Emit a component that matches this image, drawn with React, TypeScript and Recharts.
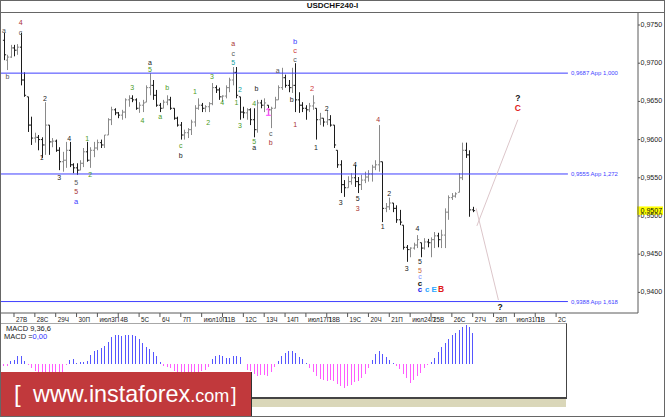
import React from 'react';
import { ComposedChart, Bar, XAxis, YAxis, Scatter, ReferenceLine } from 'recharts';

// ---------- data (USDCHF, H4 bars; bar index 0 = 27 Tue 00:00, 6 bars per day) ----------
const FIRST_BAR = -3;
const BARS_PER_DAY = 6;

const barHigh = [
  0.9740, 0.9711, 0.9724, 0.9724, 0.9725, 0.9740, 0.9688, 0.9656, 0.9630, 0.9609,
  0.9606, 0.9603, 0.9649, 0.9619, 0.9602, 0.9600, 0.9590, 0.9584, 0.9597, 0.9597,
  0.9569, 0.9569, 0.9573, 0.9589, 0.9597, 0.9590, 0.9597, 0.9600, 0.9600, 0.9606,
  0.9628, 0.9643, 0.9641, 0.9636, 0.9639, 0.9654, 0.9658, 0.9658, 0.9654, 0.9649,
  0.9652, 0.9671, 0.9687, 0.9678, 0.9665, 0.9648, 0.9652, 0.9658, 0.9656, 0.9641,
  0.9630, 0.9623, 0.9613, 0.9615, 0.9626, 0.9645, 0.9654, 0.9648, 0.9645, 0.9649,
  0.9674, 0.9671, 0.9668, 0.9658, 0.9671, 0.9681, 0.9695, 0.9695, 0.9656, 0.9643,
  0.9641, 0.9641, 0.9641, 0.9652, 0.9652, 0.9654, 0.9645, 0.9643, 0.9656, 0.9671,
  0.9694, 0.9685, 0.9678, 0.9694, 0.9700, 0.9662, 0.9649, 0.9645, 0.9648, 0.9658,
  0.9641, 0.9635, 0.9628, 0.9639, 0.9632, 0.9619, 0.9586, 0.9573, 0.9547, 0.9552,
  0.9556, 0.9567, 0.9551, 0.9554, 0.9558, 0.9560, 0.9567, 0.9573, 0.9619, 0.9571,
  0.9517, 0.9524, 0.9517, 0.9514, 0.9508, 0.9488, 0.9462, 0.9459, 0.9465, 0.9475,
  0.9465, 0.9471, 0.9470, 0.9472, 0.9479, 0.9478, 0.9482, 0.9510, 0.9527, 0.9530,
  0.9531, 0.9556, 0.9596, 0.9596, 0.9586, 0.9512,
];
const barLow = [
  0.9704, 0.9691, 0.9707, 0.9709, 0.9711, 0.9671, 0.9656, 0.9610, 0.9593, 0.9596,
  0.9586, 0.9576, 0.9580, 0.9580, 0.9590, 0.9584, 0.9560, 0.9558, 0.9563, 0.9564,
  0.9556, 0.9554, 0.9560, 0.9564, 0.9571, 0.9563, 0.9577, 0.9586, 0.9589, 0.9589,
  0.9606, 0.9619, 0.9632, 0.9628, 0.9626, 0.9628, 0.9643, 0.9649, 0.9639, 0.9635,
  0.9636, 0.9649, 0.9658, 0.9652, 0.9643, 0.9636, 0.9641, 0.9645, 0.9639, 0.9626,
  0.9617, 0.9600, 0.9600, 0.9602, 0.9606, 0.9617, 0.9639, 0.9636, 0.9636, 0.9636,
  0.9645, 0.9661, 0.9652, 0.9649, 0.9654, 0.9662, 0.9671, 0.9654, 0.9626, 0.9628,
  0.9626, 0.9619, 0.9603, 0.9609, 0.9641, 0.9636, 0.9632, 0.9615, 0.9641, 0.9652,
  0.9665, 0.9668, 0.9662, 0.9661, 0.9636, 0.9635, 0.9636, 0.9626, 0.9636, 0.9639,
  0.9600, 0.9619, 0.9617, 0.9619, 0.9617, 0.9589, 0.9563, 0.9530, 0.9525, 0.9537,
  0.9541, 0.9538, 0.9530, 0.9534, 0.9543, 0.9545, 0.9545, 0.9560, 0.9558, 0.9492,
  0.9505, 0.9508, 0.9505, 0.9491, 0.9488, 0.9456, 0.9440, 0.9446, 0.9456, 0.9458,
  0.9446, 0.9456, 0.9459, 0.9446, 0.9458, 0.9459, 0.9458, 0.9458, 0.9495, 0.9521,
  0.9524, 0.9531, 0.9547, 0.9576, 0.9499, 0.9505,
];
const barOpen = [
  0.9730, 0.9704, 0.9708, 0.9720, 0.9717, 0.9721, 0.9678, 0.9656, 0.9619, 0.9602,
  0.9603, 0.9600, 0.9593, 0.9619, 0.9597, 0.9598, 0.9586, 0.9571, 0.9573, 0.9586,
  0.9567, 0.9563, 0.9560, 0.9569, 0.9584, 0.9573, 0.9586, 0.9589, 0.9596, 0.9593,
  0.9606, 0.9626, 0.9639, 0.9635, 0.9632, 0.9636, 0.9652, 0.9654, 0.9652, 0.9641,
  0.9645, 0.9649, 0.9668, 0.9671, 0.9658, 0.9645, 0.9641, 0.9649, 0.9652, 0.9641,
  0.9628, 0.9619, 0.9606, 0.9609, 0.9613, 0.9623, 0.9641, 0.9645, 0.9641, 0.9643,
  0.9647, 0.9668, 0.9665, 0.9656, 0.9657, 0.9668, 0.9678, 0.9688, 0.9656, 0.9636,
  0.9635, 0.9639, 0.9626, 0.9613, 0.9648, 0.9645, 0.9645, 0.9639, 0.9641, 0.9652,
  0.9668, 0.9681, 0.9671, 0.9668, 0.9671, 0.9652, 0.9645, 0.9641, 0.9639, 0.9644,
  0.9641, 0.9626, 0.9628, 0.9623, 0.9626, 0.9619, 0.9586, 0.9567, 0.9541, 0.9537,
  0.9545, 0.9550, 0.9545, 0.9541, 0.9547, 0.9551, 0.9555, 0.9564, 0.9567, 0.9571,
  0.9510, 0.9512, 0.9517, 0.9510, 0.9495, 0.9488, 0.9459, 0.9456, 0.9458, 0.9462,
  0.9465, 0.9458, 0.9466, 0.9465, 0.9469, 0.9474, 0.9469, 0.9475, 0.9505, 0.9524,
  0.9526, 0.9531, 0.9550, 0.9586, 0.9580, 0.9508,
];
const barClose = [
  0.9711, 0.9708, 0.9720, 0.9717, 0.9721, 0.9678, 0.9658, 0.9619, 0.9602, 0.9603,
  0.9600, 0.9593, 0.9619, 0.9597, 0.9598, 0.9586, 0.9571, 0.9573, 0.9586, 0.9567,
  0.9563, 0.9560, 0.9569, 0.9584, 0.9573, 0.9586, 0.9589, 0.9596, 0.9593, 0.9606,
  0.9626, 0.9639, 0.9635, 0.9632, 0.9636, 0.9652, 0.9654, 0.9652, 0.9641, 0.9645,
  0.9648, 0.9668, 0.9671, 0.9658, 0.9645, 0.9641, 0.9649, 0.9652, 0.9641, 0.9628,
  0.9619, 0.9606, 0.9609, 0.9613, 0.9623, 0.9641, 0.9645, 0.9641, 0.9643, 0.9647,
  0.9668, 0.9665, 0.9656, 0.9657, 0.9668, 0.9678, 0.9688, 0.9658, 0.9636, 0.9635,
  0.9639, 0.9626, 0.9613, 0.9648, 0.9645, 0.9648, 0.9639, 0.9641, 0.9652, 0.9668,
  0.9681, 0.9671, 0.9668, 0.9671, 0.9652, 0.9645, 0.9641, 0.9639, 0.9644, 0.9648,
  0.9626, 0.9628, 0.9623, 0.9626, 0.9619, 0.9593, 0.9567, 0.9541, 0.9537, 0.9545,
  0.9550, 0.9545, 0.9541, 0.9547, 0.9551, 0.9555, 0.9564, 0.9567, 0.9571, 0.9510,
  0.9512, 0.9517, 0.9510, 0.9495, 0.9492, 0.9459, 0.9456, 0.9458, 0.9462, 0.9469,
  0.9458, 0.9466, 0.9465, 0.9469, 0.9474, 0.9469, 0.9475, 0.9505, 0.9524, 0.9526,
  0.9529, 0.9550, 0.9586, 0.9580, 0.9508, 0.9507,
];
const macdHist = [
  -0.0002, -0.0002, 0.0003, 0.0004, 0.0008, 0.0008, 0.0003, -0.0001, -0.0004, -0.0007,
  -0.0009, -0.0010, -0.0010, -0.0011, -0.0011, -0.0010, -0.0010, -0.0008, -0.0001, 0.0004,
  0.0005, 0.0001, 0.0002, 0.0002, 0.0003, 0.0009, 0.0013, 0.0014, 0.0016, 0.0018,
  0.0022, 0.0027, 0.0029, 0.0029, 0.0028, 0.0029, 0.0029, 0.0029, 0.0028, 0.0025,
  0.0021, 0.0017, 0.0015, 0.0012, 0.0008, 0.0002, -0.0002, -0.0003, -0.0004, -0.0007,
  -0.0009, -0.0010, -0.0010, -0.0011, -0.0010, -0.0009, -0.0008, -0.0007, -0.0006, -0.0003,
  0.0005, 0.0008, 0.0009, 0.0008, 0.0006, 0.0006, 0.0008, 0.0008, 0.0007, 0.0000,
  -0.0006, -0.0007, -0.0010, -0.0012, -0.0011, -0.0011, -0.0012, -0.0008, -0.0003, 0.0003,
  0.0008, 0.0011, 0.0013, 0.0013, 0.0011, 0.0007, 0.0005, 0.0001, -0.0004, -0.0008,
  -0.0012, -0.0015, -0.0016, -0.0017, -0.0016, -0.0017, -0.0020, -0.0022, -0.0024, -0.0022,
  -0.0021, -0.0018, -0.0017, -0.0014, -0.0010, -0.0004, 0.0004, 0.0010, 0.0013, 0.0010,
  0.0007, 0.0004, 0.0001, -0.0002, -0.0005, -0.0010, -0.0014, -0.0019, -0.0016, -0.0012,
  -0.0009, -0.0004, -0.0001, 0.0002, 0.0006, 0.0012, 0.0017, 0.0021, 0.0025, 0.0029,
  0.0031, 0.0034, 0.0037, 0.0039, 0.0037, 0.0031,
];

const dayLabels = [
  '27В', '28С', '29Ч', '30П', 'июл3П', '4В', '5С', '6Ч', '7П', 'июл10П', '11В', '12С', '13Ч', '14П',
  'июл17П', '18В', '19С', '20Ч', '21П', 'июл24П', '25В', '26С', '27Ч', '28П', 'июл31П', '1В', '2С',
];
const priceTicks = [0.94, 0.945, 0.95, 0.955, 0.96, 0.965, 0.97, 0.975];
const fibLevels = [0.9687, 0.9555, 0.9388];
const fibRatios = ['1,000', '1,272', '1,618'];
const lastPrice = 0.9507;
const projectionUp = [{ t: 133.2, p: 0.9487 }, { t: 145.0, p: 0.9626 }];
const projectionDown = [{ t: 133.0, p: 0.9510 }, { t: 139.4, p: 0.9390 }];
const macdTitle = 'MACD 9,36,6';
const macdValueText = '0,00';

// wave labels: [bar index, price, text, degree/colour group]
const waveLabels: [number, number, string, string][] = [
  [-2.9, 0.9743, 'a', 'g'], [1.9, 0.9753, '4', 'r'], [1.9, 0.9740, 'c', 'g'], [-1.9, 0.9683, 'b', 'g'],
  [8.0, 0.9576, '1', 'k'], [8.9, 0.9654, '2', 'k'], [13.0, 0.9551, '3', 'k'], [15.9, 0.9601, '4', 'k'],
  [17.9, 0.9544, '5', 'g'], [17.9, 0.9532, '5', 'r'], [17.9, 0.9519, 'a', 'b'],
  [21.1, 0.9602, '1', 'gr'], [21.9, 0.9554, '2', 'gr'], [34.0, 0.9668, '3', 'gr'], [37.0, 0.9625, '4', 'gr'],
  [39.1, 0.9701, 'a', 'k'], [39.1, 0.9692, '5', 'gr'], [44.1, 0.9668, 'b', 'gr'], [42.1, 0.9630, 'a', 'gr'],
  [48.0, 0.9592, 'c', 'gr'], [48.0, 0.9579, 'b', 'k'], [52.1, 0.9663, '1', 'gr'], [55.9, 0.9623, '2', 'gr'],
  [57.0, 0.9682, '3', 'gr'], [59.9, 0.9649, '4', 'gr'], [63.1, 0.9726, 'a', 'r'], [63.1, 0.9713, 'c', 'g'],
  [63.1, 0.9701, '5', 't'], [65.0, 0.9665, '2', 't'], [64.0, 0.9649, '1', 'gr'], [65.0, 0.9619, '3', 'gr'],
  [69.8, 0.9667, 'b', 'k'], [69.1, 0.9647, '4', 'gr'], [69.1, 0.9597, '5', 'gr'], [69.1, 0.9589, 'a', 'k'],
  [73.2, 0.9636, '1', 'm'], [73.9, 0.9608, 'c', 'g'], [73.9, 0.9596, 'b', 'r'], [75.9, 0.9691, 'a', 'g'],
  [80.9, 0.9729, 'b', 'b'], [80.9, 0.9717, 'c', 'cr'], [80.9, 0.9705, 'c', 'g'], [79.9, 0.9652, 'b', 'k'],
  [80.9, 0.9620, '1', 'r'], [85.8, 0.9667, '2', 'cr'], [86.9, 0.9589, '1', 'k'], [90.0, 0.9641, '2', 'k'],
  [104.8, 0.9626, '4', 'r'], [94.0, 0.9518, '3', 'k'], [98.1, 0.9568, '4', 'k'], [98.9, 0.9523, '5', 'k'],
  [98.9, 0.9510, '3', 'r'], [106.1, 0.9486, '1', 'k'], [108.0, 0.9530, '2', 'k'], [113.0, 0.9431, '3', 'k'],
  [116.1, 0.9483, '4', 'k'], [116.8, 0.9440, '5', 'k'], [116.8, 0.9429, '5', 'o'], [116.8, 0.9421, 'c', 'lb'],
  [116.8, 0.9412, 'c', 'kb'], [116.8, 0.9404, 'c', 'bb'], [118.9, 0.9404, 'c', 'cy'], [120.9, 0.9404, 'E', 'cy'],
  [122.9, 0.9404, 'B', 'R'], [145.0, 0.9654, '?', 'q'], [145.0, 0.9642, 'C', 'R'], [139.9, 0.9381, '?', 'q'],
];

// ---------- layout / style ----------
const FONT = '"Liberation Sans", Arial, sans-serif';
const X_MIN = -3.741;
const X_MAX = 179.57;
const LEVEL_END = 159.4;
const Y_MIN = 0.937301;
const Y_MAX = 0.976702;
const MACD_MIN = -0.0033;
const MACD_MAX = 0.004;
const UP_COLOR = '#8a8a8a';
const DOWN_COLOR = '#1c1c1c';
const LEVEL_COLOR = '#3f3fff';

const waveStyle: Record<string, { fill: string; size: number; weight?: string }> = {
  g: { fill: '#555555', size: 7 },
  k: { fill: '#222222', size: 7 },
  r: { fill: '#a83232', size: 7 },
  cr: { fill: '#d03a3a', size: 7.5 },
  gr: { fill: '#4d9a1e', size: 7 },
  t: { fill: '#109e9e', size: 7 },
  b: { fill: '#3a3aff', size: 7.5 },
  m: { fill: '#ff5cff', size: 10, weight: 'bold' },
  o: { fill: '#cc6a3a', size: 7 },
  lb: { fill: '#7a8cff', size: 7 },
  kb: { fill: '#111111', size: 8, weight: 'bold' },
  bb: { fill: '#1a1aee', size: 8, weight: 'bold' },
  cy: { fill: '#2aa6ff', size: 8, weight: 'bold' },
  R: { fill: '#e01818', size: 8.5, weight: 'bold' },
  q: { fill: '#111111', size: 8.5, weight: 'bold' },
};

const fmtPrice = (v: number) => v.toFixed(4).replace('.', ',');

const priceRows = barHigh.map((h, i) => ({
  t: i + FIRST_BAR,
  high: h,
  low: barLow[i],
  open: barOpen[i],
  close: barClose[i],
  macd: macdHist[i],
}));
const dayTicks = dayLabels.map((_, k) => k * BARS_PER_DAY);
const labelRows = waveLabels.map(([t, p, text, kind]) => ({ t, p, text, kind }));
const ohlcRange = (d: any) => [d.low, d.high];

function OhlcShape(props: any) {
  const { x, y, width, height, payload } = props;
  if (x == null || y == null || !payload) return <g />;
  const top = Math.min(y, y + height);
  const bot = Math.max(y, y + height);
  const span = payload.high - payload.low || 1;
  const at = (v: number) => top + ((payload.high - v) / span) * (bot - top);
  const cx = Math.round(x + width / 2) + 0.5;
  const col = payload.close >= payload.open ? UP_COLOR : DOWN_COLOR;
  return (
    <g stroke={col} strokeWidth={1}>
      <line x1={cx} x2={cx} y1={top} y2={bot} />
      <line x1={cx - 1.6} x2={cx} y1={at(payload.open)} y2={at(payload.open)} />
      <line x1={cx} x2={cx + 1.6} y1={at(payload.close)} y2={at(payload.close)} />
    </g>
  );
}

function MacdShape(props: any) {
  const { x, y, width, height, payload } = props;
  if (x == null || y == null || !payload || !height) return <g />;
  const cx = Math.round(x + width / 2) + 0.5;
  return (
    <line x1={cx} x2={cx} y1={y} y2={y + height} stroke={payload.macd >= 0 ? '#5656ff' : '#ff5cff'} strokeWidth={1} />
  );
}

function WaveText(props: any) {
  const { cx, cy, payload } = props;
  if (cx == null || !payload) return <g />;
  const st = waveStyle[payload.kind] || waveStyle.k;
  return (
    <text x={cx} y={cy} textAnchor="middle" dominantBaseline="central" fontSize={st.size}
      fontWeight={st.weight || 'normal'} fill={st.fill} fontFamily={FONT}>{payload.text}</text>
  );
}

function DayTick(props: any) {
  const { x, y, payload } = props;
  const k = Math.round(payload.value / BARS_PER_DAY);
  return (
    <g>
      <line x1={x} x2={x} y1={y} y2={y + 4} stroke="#555" strokeWidth={1} />
      <text x={x + 2} y={y + 6.2} dominantBaseline="central" fontSize={6.3} fill="#222" fontFamily={FONT}>{dayLabels[k]}</text>
    </g>
  );
}

function PriceTick(props: any) {
  const { x, y, payload } = props;
  return (
    <g>
      <line x1={x} x2={x + 2} y1={y} y2={y} stroke="#555" strokeWidth={1} />
      <text x={x + 2.5} y={y} dominantBaseline="central" fontSize={7.1} fill="#222" fontFamily={FONT}>{fmtPrice(payload.value)}</text>
    </g>
  );
}

const levelLabel = (text: string) => (props: any) => {
  const vb = props.viewBox || {};
  return (
    <text x={vb.x + vb.width + 3} y={vb.y} dominantBaseline="central" fontSize={6} fill={LEVEL_COLOR} fontFamily={FONT}>{text}</text>
  );
};

const lastPriceLabel = (props: any) => {
  const vb = props.viewBox || {};
  const xr = vb.x + vb.width;
  return (
    <g>
      <rect x={xr - 1} y={vb.y - 4.2} width={26} height={8.4} fill="#ffff00" />
      <text x={xr + 2.5} y={vb.y} dominantBaseline="central" fontSize={7.1} fill="#111" fontFamily={FONT}>{fmtPrice(lastPrice)}</text>
    </g>
  );
};

export default function App() {
  return (
    <div style={{ position: 'relative', width: 665, height: 417, background: '#fff', overflow: 'hidden', fontFamily: FONT }}>
      <style>{'html,body{margin:0;padding:0;background:#fff;}'}</style>

      <div style={{ position: 'absolute', left: 0, top: 0 }}>
        <ComposedChart width={665} height={323} data={priceRows} margin={{ top: 12, right: 0, bottom: 0, left: 1 }}>
          <XAxis dataKey="t" type="number" domain={[X_MIN, X_MAX]} ticks={dayTicks} interval={0} height={10}
            tickSize={0} tickMargin={0} tickLine={false} axisLine={{ stroke: '#5a5a5a' }} tick={<DayTick />} allowDataOverflow />
          <YAxis type="number" orientation="right" domain={[Y_MIN, Y_MAX]} ticks={priceTicks} interval={0} width={27}
            tickSize={0} tickMargin={0} tickLine={false} axisLine={{ stroke: '#5a5a5a' }} tick={<PriceTick />} allowDataOverflow />
          {fibLevels.map((lv, i) => (
            <ReferenceLine key={'lv' + i} segment={[{ x: X_MIN, y: lv }, { x: LEVEL_END, y: lv }]} stroke={LEVEL_COLOR}
              strokeWidth={1} label={levelLabel(`${fmtPrice(lv)} App ${fibRatios[i]}`)} />
          ))}
          <ReferenceLine segment={[{ x: projectionUp[0].t, y: projectionUp[0].p }, { x: projectionUp[1].t, y: projectionUp[1].p }]}
            stroke="#dcc6ca" strokeWidth={1} />
          <ReferenceLine segment={[{ x: projectionDown[0].t, y: projectionDown[0].p }, { x: projectionDown[1].t, y: projectionDown[1].p }]}
            stroke="#dcc6ca" strokeWidth={1} />
          <Bar dataKey={ohlcRange} barSize={3} shape={(p: any) => <OhlcShape {...p} />} isAnimationActive={false} />
          <Scatter data={labelRows} dataKey="p" shape={(p: any) => <WaveText {...p} />} isAnimationActive={false} />
          <ReferenceLine y={lastPrice} stroke="none" label={lastPriceLabel} />
        </ComposedChart>
      </div>

      <div style={{ position: 'absolute', left: 0, top: 324 }}>
        <ComposedChart width={665} height={73} data={priceRows} margin={{ top: 0, right: 27, bottom: 0, left: 1 }}>
          <XAxis dataKey="t" type="number" domain={[X_MIN, X_MAX]} hide allowDataOverflow />
          <YAxis type="number" domain={[MACD_MIN, MACD_MAX]} hide allowDataOverflow />
          <Bar dataKey="macd" barSize={1} shape={(p: any) => <MacdShape {...p} />} isAnimationActive={false} />
        </ComposedChart>
      </div>

      {/* title bar */}
      <div style={{ position: 'absolute', left: 0, top: 1, width: 665, textAlign: 'center', fontSize: 8, fontWeight: 'bold', lineHeight: '10px', color: '#111' }}>USDCHF240-I</div>
      <div style={{ position: 'absolute', left: 0, top: 12, width: 665, height: 1, background: '#666' }} />

      {/* MACD panel frame and legend */}
      <div style={{ position: 'absolute', left: 0, top: 323, width: 567, height: 76, boxSizing: 'border-box', borderTop: '1px solid #a8a8a8', borderRight: '1px solid #444', borderBottom: '2px solid #444' }} />
      <div style={{ position: 'absolute', left: 6, top: 325, fontSize: 7.5, lineHeight: '8px', color: '#222' }}>{macdTitle}</div>
      <div style={{ position: 'absolute', left: 4, top: 332.5, fontSize: 7.5, lineHeight: '8px', color: '#222' }}>
        MACD =<span style={{ color: '#3030ff' }}>{macdValueText}</span>
      </div>
      <div style={{ position: 'absolute', left: 251, top: 399, width: 315, height: 8, background: '#e4e1c7', backgroundImage: 'radial-gradient(#cfcaa8 0.6px, transparent 0.8px)', backgroundSize: '2px 2px' }} />

      {/* logo */}
      <div style={{ position: 'absolute', left: 0, top: 372, width: 252, height: 45, background: '#c1393c', borderRight: '1px solid #333', boxSizing: 'border-box' }}>
        <svg width={251} height={45} style={{ position: 'absolute', left: 0, top: 0 }}>
          <text x={14} y={30} fontSize={24} fill="#fff" fontFamily={FONT} fontWeight={300}>[</text>
          <text x={33} y={30} fontSize={23.4} fill="#fff" fontFamily={FONT}>www.instaforex<tspan fontSize={18}>.com</tspan></text>
          <text x={231} y={30} fontSize={20} fill="#fff" fontFamily={FONT}>]</text>
        </svg>
      </div>

      {/* outer frame */}
      <div style={{ position: 'absolute', left: 0, top: 0, width: 665, height: 417, boxSizing: 'border-box', border: '1px solid #666', pointerEvents: 'none' }} />
    </div>
  );
}
